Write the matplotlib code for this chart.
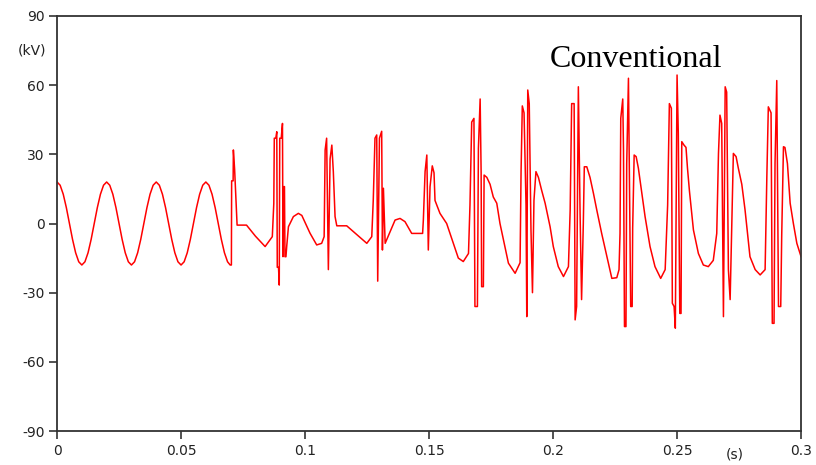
import matplotlib
matplotlib.use('Agg')
import matplotlib.pyplot as plt

plt.rcParams['axes.unicode_minus'] = False

# axis ticks
x_ticks = [0, 0.05, 0.1, 0.15, 0.2, 0.25, 0.3]
x_tick_labels = ['0', '0.05', '0.1', '0.15', '0.2', '0.25', '0.3']
y_ticks = [-90, -60, -30, 0, 30, 60, 90]

# steady state before the fault (s, kV)
t_steady = [0.0, 0.00125, 0.0025, 0.00375, 0.005, 0.00625, 0.0075, 0.00875,
            0.01, 0.01125, 0.0125, 0.01375, 0.015, 0.01625, 0.0175, 0.01875,
            0.02, 0.02125, 0.0225, 0.02375, 0.025, 0.02625, 0.0275, 0.02875,
            0.03, 0.03125, 0.0325, 0.03375, 0.035, 0.03625, 0.0375, 0.03875,
            0.04, 0.04125, 0.0425, 0.04375, 0.045, 0.04625, 0.0475, 0.04875,
            0.05, 0.05125, 0.0525, 0.05375, 0.055, 0.05625, 0.0575, 0.05875,
            0.06, 0.06125, 0.0625, 0.06375, 0.065, 0.06625, 0.0675, 0.06875,
            0.0698]
v_steady = [18, 16.6, 12.7, 6.9, 0, -6.9, -12.7, -16.6,
            -18, -16.6, -12.7, -6.9, 0, 6.9, 12.7, 16.6,
            18, 16.6, 12.7, 6.9, 0, -6.9, -12.7, -16.6,
            -18, -16.6, -12.7, -6.9, 0, 6.9, 12.7, 16.6,
            18, 16.6, 12.7, 6.9, 0, -6.9, -12.7, -16.6,
            -18, -16.6, -12.7, -6.9, 0, 6.9, 12.7, 16.6,
            18, 16.6, 12.7, 6.9, 0, -6.9, -12.7, -16.6,
            -18]

# transient part (s, kV)
t_trans = [0.0703, 0.0704, 0.0710, 0.0711, 0.0716, 0.0722, 0.0726, 0.0764, 0.0800, 0.0839, 0.0868,
           0.0874, 0.0876, 0.0882, 0.0886, 0.0888, 0.0893, 0.0896, 0.0898, 0.0904, 0.0909, 0.0911,
           0.0914, 0.0917, 0.0919, 0.0923, 0.0926, 0.0933, 0.0953, 0.0973, 0.0987, 0.1020, 0.1047,
           0.1067, 0.1077,
           0.1081, 0.1087, 0.1094, 0.1101, 0.1108, 0.1114, 0.1121, 0.1128, 0.1168, 0.1249, 0.1269,
           0.1275, 0.1282, 0.1289, 0.1293, 0.1300, 0.1309, 0.1312, 0.1316, 0.1323, 0.1363, 0.1383,
           0.1403, 0.1430, 0.1457, 0.1474,
           0.1477, 0.1484, 0.1491, 0.1497, 0.1504, 0.1513, 0.1520, 0.1524, 0.1544, 0.1571, 0.1598,
           0.1618, 0.1638, 0.1659,
           0.1665, 0.1672, 0.1681, 0.1685, 0.1695, 0.1699, 0.1706, 0.1710, 0.1712, 0.1719, 0.1722,
           0.1733, 0.1746, 0.1759, 0.1773, 0.1786, 0.1800, 0.1820, 0.1847, 0.1867,
           0.1871, 0.1876, 0.1883, 0.1891, 0.1894, 0.1898, 0.1904, 0.1911, 0.1917, 0.1923, 0.1931,
           0.1941, 0.1954, 0.1968, 0.1988, 0.2001, 0.2021, 0.2042, 0.2062,
           0.2069, 0.2075, 0.2085, 0.2089, 0.2095, 0.2102, 0.2109, 0.2115, 0.2122, 0.2126, 0.2136,
           0.2149, 0.2163, 0.2176, 0.2196, 0.2217, 0.2237, 0.2257, 0.2266,
           0.2270, 0.2273, 0.2281, 0.2284, 0.2288, 0.2294, 0.2297, 0.2304, 0.2308, 0.2313, 0.2319,
           0.2321, 0.2327, 0.2335, 0.2344, 0.2358, 0.2371, 0.2391, 0.2411, 0.2434, 0.2452,
           0.2462, 0.2469, 0.2477, 0.2481, 0.2488, 0.2493, 0.2500, 0.2505, 0.2511, 0.2516, 0.2519,
           0.2528, 0.2536, 0.2542, 0.2550, 0.2566, 0.2586, 0.2606, 0.2626, 0.2646,
           0.2660, 0.2667, 0.2673, 0.2680, 0.2687, 0.2694, 0.2700, 0.2707, 0.2714, 0.2720, 0.2727,
           0.2738, 0.2747, 0.2761, 0.2774, 0.2794, 0.2815, 0.2835, 0.2855,
           0.2862, 0.2868, 0.2879, 0.2884, 0.2891, 0.2895, 0.2902, 0.2909, 0.2918, 0.2922, 0.2929,
           0.2935, 0.2945, 0.2956, 0.2969, 0.2983, 0.3000]
v_trans = [-18, 18.5, 18.5, 31.9, 23.5, 8.7, -0.7, -0.7, -5.5, -10, -5.7,
           8.7, 37, 37, 39.8, -19, -19, -26.7, 37, 37, 43.4, -14.4,
           16, 16, -14.4, -14.4, -10, -1.4, 3, 4.4, 3.5, -4.2, -9.3,
           -8.6, -5.7,
           31.9, 37, -20, 28, 34, 22.5, 3, -1, -1, -8.6, -5.7,
           10, 37, 38.4, -25, 37, 40, -11.5, 15.3, -8.6, 1.5, 2.2,
           0.8, -4.3, -4.3, -4.3,
           1.5, 22.5, 29.7, -11.5, 16, 25, 22, 10, 4.4, 0, -8.6,
           -15, -16.5, -13,
           8, 44, 45.6, -36, -36, 32.6, 54, 21.8, -27.4, -27.4, 21,
           20, 17, 11.5, 8.8, 0, -7, -17.2, -21.6, -17,
           22.5, 51, 48, 8, -40.4, 57.9, 52, -3, -30, 10, 22.5,
           20, 14.4, 8.8, -1.4, -10, -18.7, -23, -18.7,
           5.8, 52, 52, -41.8, -36, 59.3, 4, -33, 0, 24.6, 24.6,
           20, 13, 6, -4.3, -14.4, -23.8, -23.5, -20,
           -4.3, 45.6, 54, 31.9, -44.7, -44.7, 26, 63, 20, -36, -36,
           -2.1, 29.7, 29, 24, 13, 3, -10, -18.7, -23.8, -20,
           8, 52, 50, -34.6, -36, -45.4, 64.4, 39, -39, -39, 35.5,
           34, 33, 24, 14, -2.8, -13, -18, -18.7, -16,
           -4.3, 30.4, 47, 43.4, -40.4, 59.3, 57, -20, -33, -3, 30.4,
           29, 24, 17, 6, -14.4, -20, -22.3, -20,
           20.3, 50.6, 48, -43.3, -43.3, 26, 62, -36, -36, -5, 33.3,
           33, 26, 8.8, 0, -8.6, -14.4]

t = t_steady + t_trans
v = v_steady + v_trans

fig = plt.figure(figsize=(8.16, 4.65), dpi=100)
ax = fig.add_axes([0.0699, 0.0731, 0.9118, 0.8925])

ax.plot(t, v, color='#ff0000', lw=1.1)

ax.set_xlim(0, 0.3)
ax.set_ylim(-90, 90)
ax.set_xticks(x_ticks)
ax.set_xticklabels(x_tick_labels)
ax.set_yticks(y_ticks)
ax.tick_params(direction='out', length=6, width=1.2, color='#333333',
               labelsize=10, labelcolor='#222222', pad=3)
for s in ax.spines.values():
    s.set_color('#333333')
    s.set_linewidth(1.3)

fig.text(32 / 816, 1 - 51 / 465, '(kV)', ha='center', va='center',
         fontsize=10, color='#222222')
fig.text(735 / 816, 1 - 454 / 465, '(s)', ha='center', va='center',
         fontsize=10, color='#222222')
ax.text(0.2335, 68, 'Conventional', ha='center', va='baseline',
        fontsize=23, family='Liberation Serif', color='black')

fig.savefig('out.png', dpi=100)
